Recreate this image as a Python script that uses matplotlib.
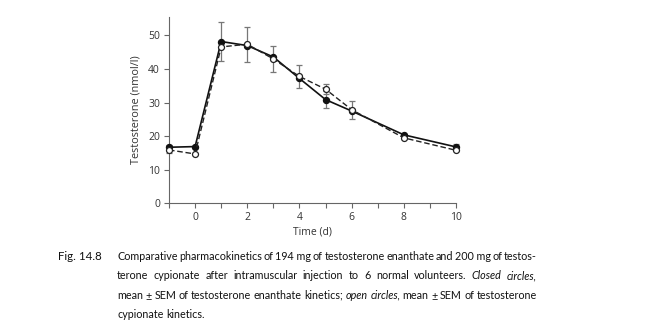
import numpy as np
import matplotlib
matplotlib.use("Agg")
import matplotlib.pyplot as plt
from matplotlib import font_manager

# Serum testosterone after a single i.m. injection (mean +/- SEM, n = 6)
days = [-1, 0, 1, 2, 3, 4, 5, 6, 8, 10]
enanthate = [16.7, 16.9, 48.2, 47.0, 43.6, 37.2, 30.9, 27.5, 20.4, 16.8]
enanthate_sem = [0.8, 0.0, 5.8, 0.0, 0.0, 0.0, 2.5, 0.0, 0.0, 0.8]
cypionate = [15.9, 14.7, 46.6, 47.4, 43.0, 37.8, 34.0, 27.9, 19.5, 15.8]
cypionate_sem = [0.8, 0.0, 0.0, 5.2, 3.9, 3.3, 1.4, 2.7, 0.0, 0.0]

x_ticks = [0, 2, 4, 6, 8, 10]
y_ticks = [0, 10, 20, 30, 40, 50]

fig_label = "Fig. 14.8"
caption_lines = [
    [("Comparative", "normal"), ("pharmacokinetics", "normal"), ("of", "normal"),
     ("194 mg", "normal"), ("of", "normal"), ("testosterone", "normal"),
     ("enanthate", "normal"), ("and", "normal"), ("200 mg", "normal"),
     ("of", "normal"), ("testos-", "normal")],
    [("terone", "normal"), ("cypionate", "normal"), ("after", "normal"),
     ("intramuscular", "normal"), ("injection", "normal"), ("to", "normal"),
     ("6", "normal"), ("normal", "normal"), ("volunteers.", "normal"),
     ("Closed", "italic"), ("circles,", "italic")],
    [("mean", "normal"), ("\u00b1", "normal"), ("SEM", "normal"), ("of", "normal"),
     ("testosterone", "normal"), ("enanthate", "normal"), ("kinetics;", "normal"),
     ("open", "italic"), ("circles,", "italic"), ("mean", "normal"),
     ("\u00b1", "normal"), ("SEM", "normal"), ("of", "normal"),
     ("testosterone", "normal")],
    [("cypionate", "normal"), ("kinetics.", "normal")],
]

installed = {f.name for f in font_manager.fontManager.ttflist}
cap_font = "Liberation Sans Narrow" if "Liberation Sans Narrow" in installed else "Lato"
cap_family = [cap_font, "DejaVu Sans"]

W, H = 661, 334
fig = plt.figure(figsize=(W / 100, H / 100), dpi=100)
ax = fig.add_axes([169 / W, 1 - 203.3 / H, (456 - 169) / W, (203.3 - 16.7) / H])

ax.plot(days, enanthate, "-", color="#111111", lw=1.2,
        marker="o", ms=4.3, mfc="#111111", mec="#111111", clip_on=False, zorder=4)
ax.plot(days, cypionate, "--", color="#222222", lw=1.0, dashes=(4, 2),
        marker="o", ms=4.3, mfc="white", mec="#222222", mew=0.9, clip_on=False, zorder=5)

for vals, errs in [(enanthate, enanthate_sem), (cypionate, cypionate_sem)]:
    xs = [d for d, e in zip(days, errs) if e > 0]
    ys = [v for v, e in zip(vals, errs) if e > 0]
    es = [e for e in errs if e > 0]
    ax.errorbar(xs, ys, yerr=es, fmt="none", ecolor="#777777", elinewidth=0.9,
                capsize=2.5, capthick=0.9, clip_on=False, zorder=3)

ax.set_xlim(-1, 10)
ax.set_ylim(0, 55.6)
ax.set_xticks(x_ticks)
ax.set_xticks(range(-1, 11), minor=True)
ax.set_yticks(y_ticks)
for s in ["top", "right"]:
    ax.spines[s].set_visible(False)
for s in ["left", "bottom"]:
    ax.spines[s].set_color("#666666")
    ax.spines[s].set_linewidth(0.8)
ax.tick_params(which="both", direction="out", color="#666666", width=0.8)
ax.tick_params(which="major", length=3.5, labelsize=7.5, labelcolor="#333333", pad=3)
ax.tick_params(which="minor", length=3.5)
for lab in ax.get_xticklabels() + ax.get_yticklabels():
    lab.set_family("Open Sans")

ax.set_xlabel("Time (d)", fontsize=7.5, color="#333333", family="Open Sans", labelpad=2)
ax.set_ylabel("Testosterone (nmol/l)", fontsize=7.8, color="#333333", family="Open Sans", labelpad=5)

# caption set as justified text, word by word
left_px, right_px = 117, 537
baselines = [260, 279.3, 298.7, 318]
renderer = fig.canvas.get_renderer()


def word_widths(words, size):
    out = []
    for w, style in words:
        t = fig.text(0, 0, w, fontsize=size, family=cap_family, style=style)
        out.append(t.get_window_extent(renderer).width)
        t.remove()
    return out


# pick the largest size where every justified line fits with tight spaces
fs = 9.0
for words in caption_lines[:-1]:
    ws = word_widths(words, 9.0)
    space = 0.16 * 9.0 * 100 / 72
    need = sum(ws) + space * (len(ws) - 1)
    fs = min(fs, 9.0 * (right_px - left_px) / need)

fig.text(58 / W, 1 - baselines[0] / H, fig_label, fontsize=8.3, family=cap_family,
         va="baseline", ha="left", color="#111111")

for i, (words, base) in enumerate(zip(caption_lines, baselines)):
    widths = word_widths(words, fs)
    if i < len(caption_lines) - 1:
        gap = (right_px - left_px - sum(widths)) / (len(words) - 1)
    else:
        gap = 0.25 * fs * 100 / 72
    x = left_px
    for (w, style), wd in zip(words, widths):
        fig.text(x / W, 1 - base / H, w, fontsize=fs, family=cap_family, style=style,
                 va="baseline", ha="left", color="#111111")
        x += wd + gap

fig.savefig("out.png", dpi=100)
